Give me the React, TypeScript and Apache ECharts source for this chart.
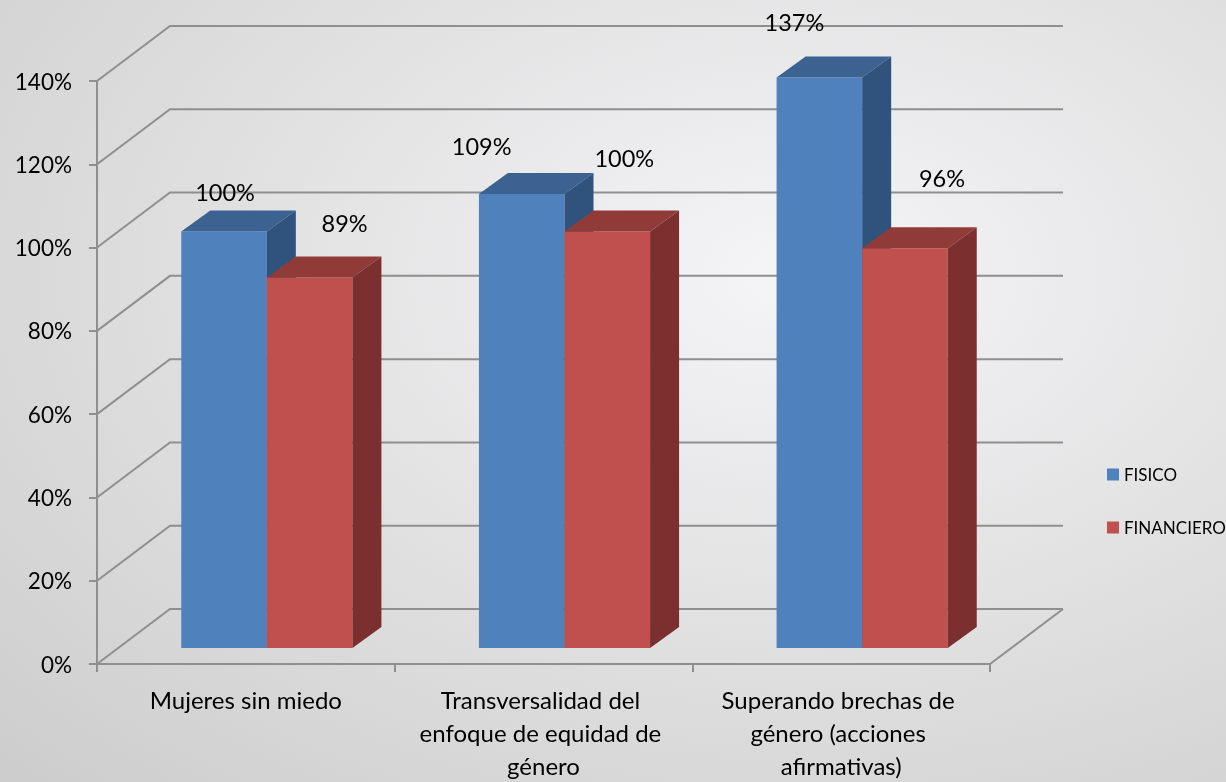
import React, { useEffect, useRef } from "react";
import * as echarts from "echarts";

const CATEGORIES = [
  "Mujeres sin miedo",
  "Transversalidad del enfoque de equidad de género",
  "Superando brechas de género (acciones afirmativas)",
];
const FISICO = [100, 109, 137];
const FINANCIERO = [89, 100, 96];
const Y_TICKS = [0, 20, 40, 60, 80, 100, 120, 140];
const SERIES_NAMES = ["FISICO", "FINANCIERO"];

// layout / style constants
const FONT = "Lato";
const DEPTH = [73, -55]; // wall depth vector
const BAR_FRONT = [21, -16]; // bar front plane offset
const BAR_DEPTH = [29, -21];
const BAR_FRAC = 0.2875;
const COLORS = [
  { front: "#4F81BD", top: "#3B6291", side: "#30537D" },
  { front: "#C0504D", top: "#913B39", side: "#7B302F" },
];
// label nudges relative to bar front-top centre (x, y)
const LABEL_NUDGE = [
  [[1, -40], [-40, -48], [-25, -55]],
  [[35, -54], [17, -74], [37, -70]],
];
const GRID_COLOR = "#8f8f8f";

function wallRender(params: any, api: any) {
  const cs = params.coordSys;
  const v = api.value(1);
  const y = api.coord([0, v])[1];
  const left = cs.x;
  const right = cs.x + cs.width;
  const children: any[] = [
    {
      type: "polyline",
      shape: {
        points: [
          [left, y],
          [left + DEPTH[0], y + DEPTH[1]],
          [right + DEPTH[0], y + DEPTH[1]],
        ],
      },
      style: { stroke: GRID_COLOR, lineWidth: 2, fill: "none" },
    },
  ];
  if (v === 0) {
    children.push({
      type: "line",
      shape: { x1: right, y1: y, x2: right + DEPTH[0], y2: y + DEPTH[1] },
      style: { stroke: GRID_COLOR, lineWidth: 2 },
    });
  }
  return { type: "group", children };
}

function makeBarRender(sIdx: number) {
  return function (params: any, api: any) {
    const i = api.value(0);
    const v = api.value(1);
    const c0 = api.coord([i, 0]);
    const c1 = api.coord([i, v]);
    const catW = api.size([1, 0])[0];
    const bw = catW * BAR_FRAC;
    const x0 = c0[0] + BAR_FRONT[0] + (sIdx === 0 ? -bw : 0);
    const x1 = x0 + bw;
    const yb = c0[1] + BAR_FRONT[1];
    const yt = c1[1] + BAR_FRONT[1];
    const [dx, dy] = BAR_DEPTH;
    const col = COLORS[sIdx];
    const nudge = LABEL_NUDGE[sIdx][i];
    return {
      type: "group",
      children: [
        {
          type: "rect",
          shape: { x: x0, y: yt, width: bw, height: yb - yt },
          style: { fill: col.front },
        },
        {
          type: "polygon",
          shape: {
            points: [
              [x0, yt],
              [x0 + dx, yt + dy],
              [x1 + dx, yt + dy],
              [x1, yt],
            ],
          },
          style: { fill: col.top },
        },
        {
          type: "polygon",
          shape: {
            points: [
              [x1, yt],
              [x1 + dx, yt + dy],
              [x1 + dx, yb + dy],
              [x1, yb],
            ],
          },
          style: { fill: col.side },
        },
        {
          type: "text",
          style: {
            text: v + "%",
            x: (x0 + x1) / 2 + nudge[0],
            y: yt + nudge[1],
            fill: "#000",
            fontSize: 23.5,
            fontFamily: FONT,
            align: "center",
            verticalAlign: "middle",
          },
        },
      ],
    };
  };
}

export default function App() {
  const ref = useRef<HTMLDivElement>(null);
  useEffect(() => {
    if (!ref.current) return;
    const chart = echarts.init(ref.current, undefined, { renderer: "svg" });
    const option: any = {
      animation: false,
      backgroundColor: {
        type: "radial",
        x: 0.65,
        y: 0.35,
        r: 0.95,
        colorStops: [
          { offset: 0, color: "#f5f5f7" },
          { offset: 1, color: "#cbcbcb" },
        ],
      },
      grid: { left: 97, right: 236, top: 81, bottom: 114 },
      legend: {
        orient: "vertical",
        left: 1102,
        top: 461,
        icon: "rect",
        itemWidth: 12,
        itemHeight: 12,
        itemGap: 36,
        textStyle: { fontFamily: FONT, fontSize: 17, color: "#000" },
        data: SERIES_NAMES.map((n, k) => ({ name: n, itemStyle: { color: COLORS[k].front } })),
        selectedMode: false,
      },
      xAxis: {
        type: "category",
        data: CATEGORIES,
        axisLine: { show: true, lineStyle: { color: GRID_COLOR, width: 2 } },
        axisTick: { show: true, length: 8, lineStyle: { color: GRID_COLOR, width: 2 } },
        axisLabel: {
          interval: 0,
          color: "#000",
          fontFamily: FONT,
          fontSize: 24,
          lineHeight: 33,
          width: 268,
          overflow: "break",
          margin: 19,
        },
      },
      yAxis: {
        type: "value",
        min: 0,
        max: 140,
        interval: 20,
        axisLine: { show: true, lineStyle: { color: GRID_COLOR, width: 2 } },
        axisTick: { show: true, length: 8, lineStyle: { color: GRID_COLOR, width: 2 } },
        splitLine: { show: false },
        axisLabel: {
          formatter: "{value}%",
          color: "#000",
          fontFamily: FONT,
          fontSize: 22.5,
          margin: 25,
        },
      },
      series: [
        {
          type: "custom",
          name: "walls",
          renderItem: wallRender,
          data: Y_TICKS.map((v) => [0, v]),
          encode: { x: 0, y: 1 },
          clip: false,
          silent: true,
          z: 1,
        },
        {
          type: "custom",
          name: SERIES_NAMES[0],
          renderItem: makeBarRender(0),
          data: FISICO.map((v, i) => [i, v]),
          encode: { x: 0, y: 1 },
          itemStyle: { color: COLORS[0].front },
          clip: false,
          z: 3,
        },
        {
          type: "custom",
          name: SERIES_NAMES[1],
          renderItem: makeBarRender(1),
          data: FINANCIERO.map((v, i) => [i, v]),
          encode: { x: 0, y: 1 },
          itemStyle: { color: COLORS[1].front },
          clip: false,
          z: 4,
        },
      ],
    };
    chart.setOption(option);
    return () => chart.dispose();
  }, []);
  return (
    <div
      ref={ref}
      style={{ position: "fixed", left: 0, top: 0, width: 1226, height: 782 }}
    />
  );
}
